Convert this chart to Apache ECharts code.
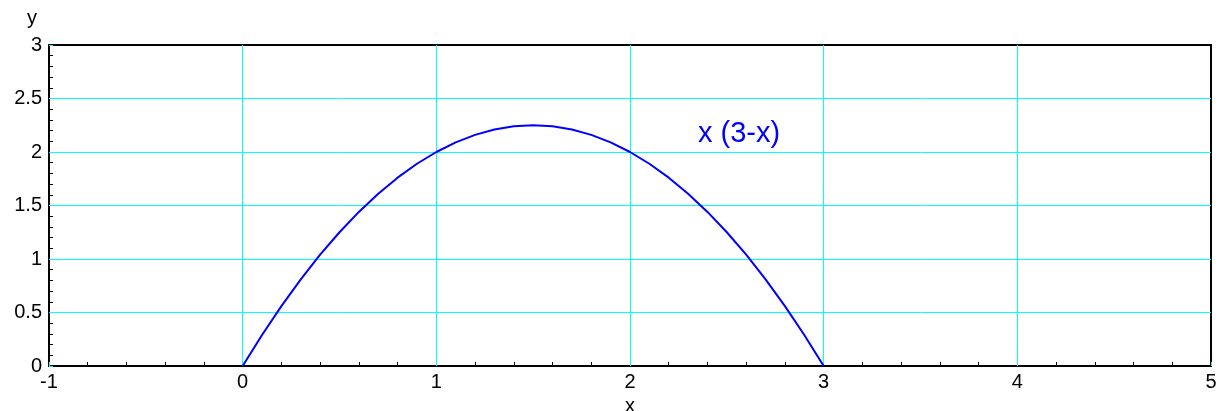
<!DOCTYPE html>
<html>
<head>
<meta charset="utf-8">
<script src="https://cdn.jsdelivr.net/npm/echarts@6/dist/echarts.min.js"></script>
<style>
  html, body { margin: 0; padding: 0; background: #fff; }
  #chart { width: 1220px; height: 411px; }
</style>
</head>
<body>
<div id="chart"></div>
<script>
// points
const xValues = [0, 0.1, 0.2, 0.3, 0.4, 0.5, 0.6, 0.7, 0.8, 0.9, 1.0,
                 1.1, 1.2, 1.3, 1.4, 1.5, 1.6, 1.7, 1.8, 1.9, 2.0,
                 2.1, 2.2, 2.3, 2.4, 2.5, 2.6, 2.7, 2.8, 2.9, 3.0]
const yValues = [0, 0.29, 0.56, 0.81, 1.04, 1.25, 1.44, 1.61, 1.76, 1.89, 2.0,
                 2.09, 2.16, 2.21, 2.24, 2.25, 2.24, 2.21, 2.16, 2.09, 2.0,
                 1.89, 1.76, 1.61, 1.44, 1.25, 1.04, 0.81, 0.56, 0.29, 0]
const curveName = 'x (3-x)'
const xTicks = [-1, 0, 1, 2, 3, 4, 5]
const yTicks = [0, 0.5, 1, 1.5, 2, 2.5, 3]

const font = 'Liberation Sans, Arial, Helvetica, sans-serif'
const gridColor = '#00ffff'
const lineColor = '#0000ff'

const chart = echarts.init(document.getElementById('chart'))

const points = xValues.map((x, i) => [x, yValues[i]])

chart.setOption({
  animation: false,
  grid: {
    left: 49, right: 9, top: 45, bottom: 45,
    outerBoundsMode: 'none',
    containLabel: false,
    show: true,
    borderColor: '#000',
    borderWidth: 2,
    backgroundColor: '#fff'
  },
  xAxis: {
    type: 'value',
    min: xTicks[0],
    max: xTicks[xTicks.length - 1],
    interval: 1,
    name: 'x',
    nameLocation: 'middle',
    nameGap: 29,
    nameTextStyle: { fontFamily: font, fontSize: 20, color: '#000' },
    axisLine: { onZero: false, lineStyle: { color: '#000', width: 2 } },
    axisTick: { show: true, inside: true, length: 4, lineStyle: { color: gridColor } },
    minorTick: { show: true, splitNumber: 5, length: 4, lineStyle: { color: '#000', width: 1 } },
    axisLabel: { fontFamily: font, fontSize: 20, color: '#000', margin: 6 },
    splitLine: { show: true, showMinLine: false, showMaxLine: false, lineStyle: { color: gridColor, width: 1 } }
  },
  yAxis: {
    type: 'value',
    min: yTicks[0],
    max: yTicks[yTicks.length - 1],
    interval: 0.5,
    name: 'y',
    nameLocation: 'end',
    nameGap: 17,
    nameTextStyle: { fontFamily: font, fontSize: 20, color: '#000', align: 'right', padding: [0, 12, 0, 0] },
    axisLine: { onZero: false, lineStyle: { color: '#000', width: 2 } },
    axisTick: { show: true, inside: true, length: 4, lineStyle: { color: gridColor } },
    minorTick: { show: true, splitNumber: 5, length: 4, lineStyle: { color: '#000', width: 1 } },
    axisLabel: { fontFamily: font, fontSize: 20, color: '#000', margin: 7 },
    splitLine: { show: true, showMinLine: false, showMaxLine: false, lineStyle: { color: gridColor, width: 1 } }
  },
  graphic: [{
    type: 'text',
    left: 698,
    top: 119,
    style: { text: curveName, fontFamily: font, fontSize: 29, fill: lineColor }
  }],
  series: [{
    name: curveName,
    type: 'line',
    data: points,
    showSymbol: false,
    smooth: false,
    lineStyle: { color: lineColor, width: 2 }
  }]
})
</script>
</body>
</html>
